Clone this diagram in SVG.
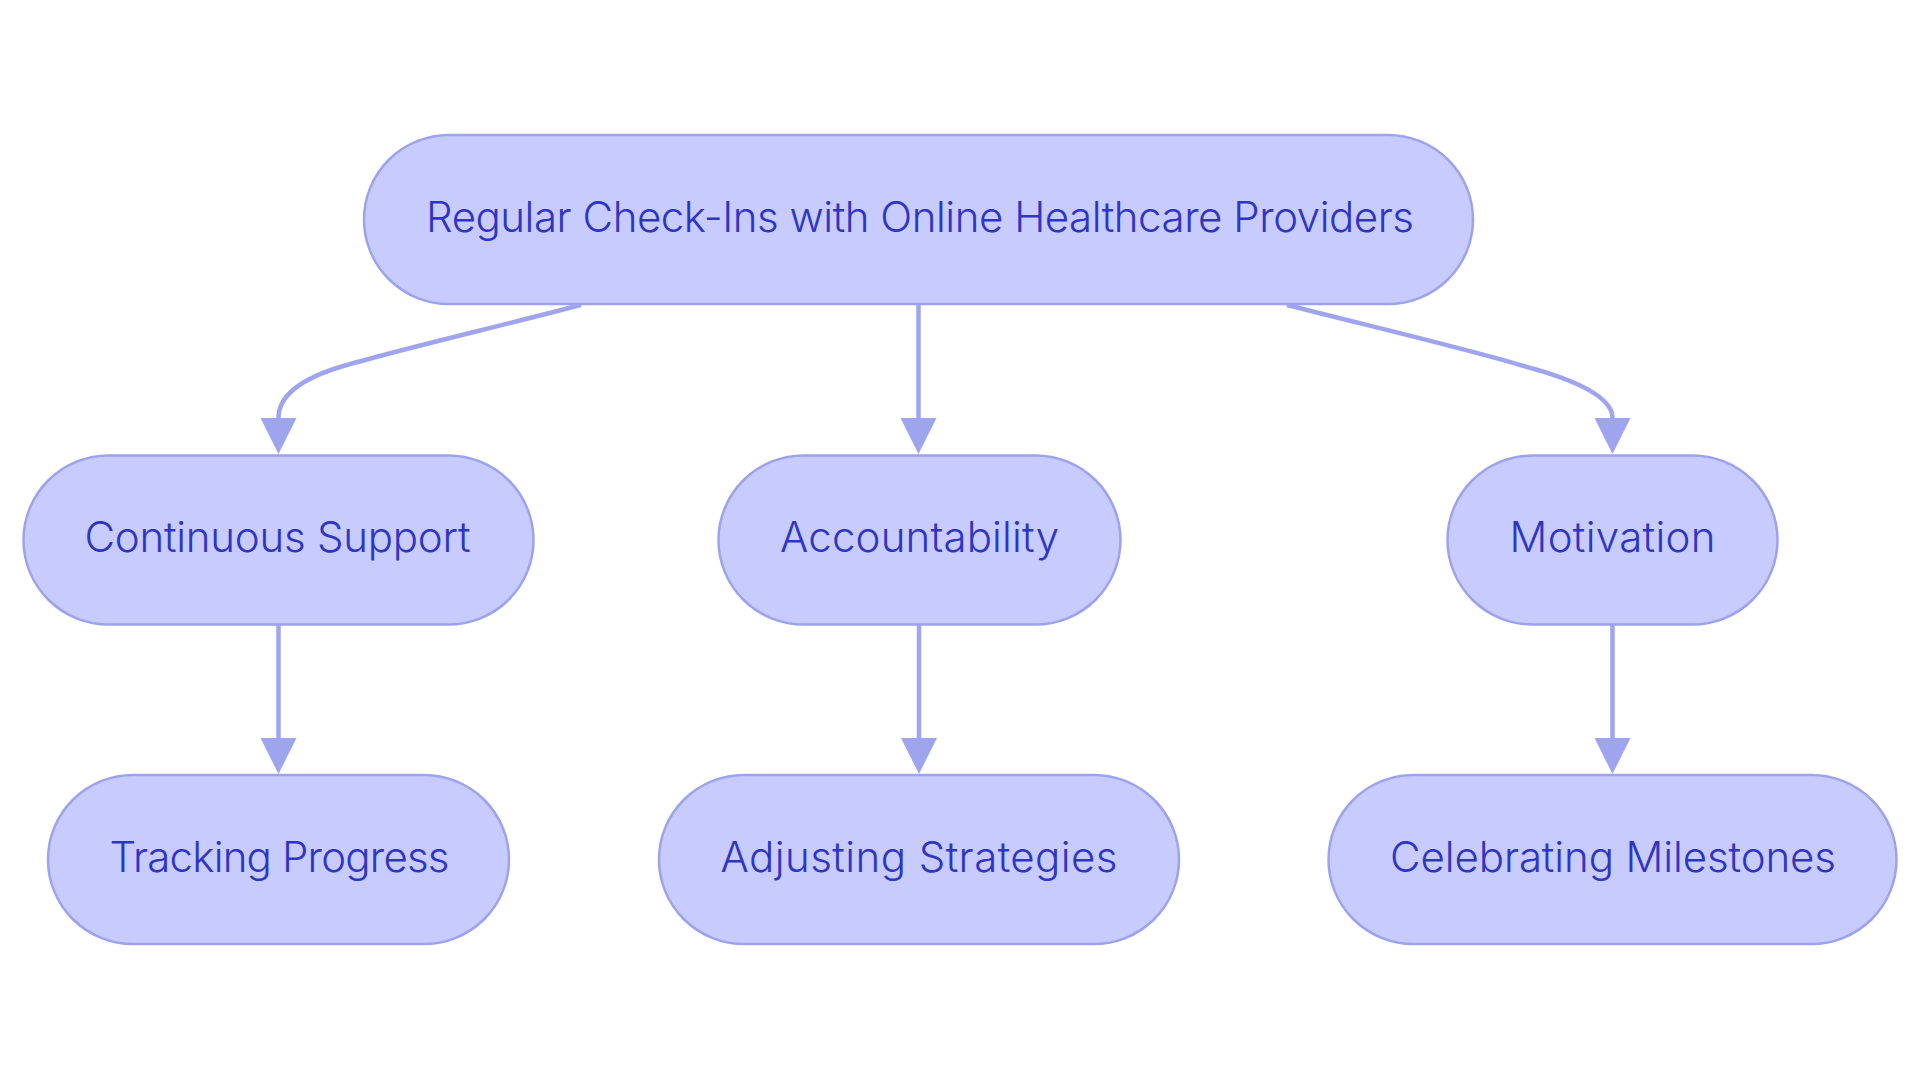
<svg xmlns="http://www.w3.org/2000/svg" width="1920" height="1083" viewBox="0 0 1920 1083">
<style>
.node rect{fill:#C7CBFD;stroke:#9DA2EE;stroke-width:2.5}
.node text{font-family:Inter,"Noto Sans","Liberation Sans",sans-serif;font-size:42px;font-weight:350;fill:#2E35C4;text-anchor:middle}
.edge{fill:none;stroke:#9FA4EE;stroke-width:4.5}
</style>
<defs>
<marker id="arrow" viewBox="0 0 36 36" refX="0" refY="18" markerWidth="36" markerHeight="36" markerUnits="userSpaceOnUse" orient="auto">
<path d="M0,0 L36,18 L0,36 z" fill="#9FA4EE"/>
</marker>
</defs>
<rect width="1920" height="1083" fill="#ffffff"/>
<g id="connectors">
<path class="edge" d="M581,305 C480,331 390,352 340,367 Q278.5,386 278.5,418" marker-end="url(#arrow)"/>
<path class="edge" d="M918.5,305 L918.5,418" marker-end="url(#arrow)"/>
<path class="edge" d="M1287,305 C1390,331 1470,350 1520,365 Q1612.5,389 1612.5,418" marker-end="url(#arrow)"/>
<path class="edge" d="M278.5,625 L278.5,738" marker-end="url(#arrow)"/>
<path class="edge" d="M919,625 L919,738" marker-end="url(#arrow)"/>
<path class="edge" d="M1612.5,625 L1612.5,738" marker-end="url(#arrow)"/>
</g>
<g id="node-root" class="node">
<rect x="364" y="135" width="1109" height="169" rx="85" ry="85"/>
<text x="920" y="232" textLength="988" lengthAdjust="spacing">Regular Check-Ins with Online Healthcare Providers</text>
</g>
<g id="node-support" class="node">
<rect x="23.5" y="455.5" width="510" height="169" rx="85" ry="85"/>
<text x="277.5" y="552" textLength="386" lengthAdjust="spacing">Continuous Support</text>
</g>
<g id="node-accountability" class="node">
<rect x="718.5" y="455.5" width="402" height="169" rx="85" ry="85"/>
<text x="919.5" y="552" textLength="279" lengthAdjust="spacing">Accountability</text>
</g>
<g id="node-motivation" class="node">
<rect x="1447.5" y="455.5" width="330" height="169" rx="85" ry="85"/>
<text x="1612.5" y="552" textLength="206" lengthAdjust="spacing">Motivation</text>
</g>
<g id="node-tracking" class="node">
<rect x="48" y="775" width="461" height="169" rx="85" ry="85"/>
<text x="279.5" y="872" textLength="340" lengthAdjust="spacing">Tracking Progress</text>
</g>
<g id="node-adjusting" class="node">
<rect x="659" y="775" width="520" height="169" rx="85" ry="85"/>
<text x="919" y="872" textLength="397" lengthAdjust="spacing">Adjusting Strategies</text>
</g>
<g id="node-celebrating" class="node">
<rect x="1328.5" y="775" width="568" height="169" rx="85" ry="85"/>
<text x="1613" y="872" textLength="446" lengthAdjust="spacing">Celebrating Milestones</text>
</g>
</svg>
